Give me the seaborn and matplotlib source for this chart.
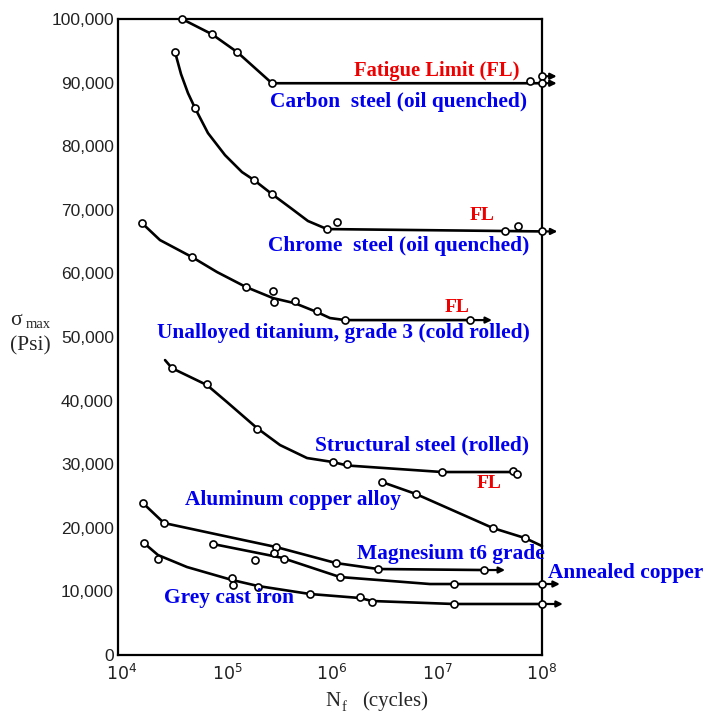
import matplotlib
matplotlib.use("Agg")
import matplotlib.pyplot as plt
import matplotlib.ticker as mticker
import numpy as np
import seaborn as sns

# ---- data (N = cycles, S = psi) ----
carbon_line_n = [3.73e4, 7.2e4, 1.25e5, 2.68e5, 1e8]
carbon_line_s = [100000, 97600, 94800, 89900, 89900]
carbon_pts_n = [3.73e4, 7.2e4, 1.25e5, 2.68e5, 7.7e7, 1e8, 1e8]
carbon_pts_s = [100000, 97600, 94800, 89900, 90200, 91000, 89900]

chrome_line_n = [3.2e4, 3.65e4, 4.25e4, 4.96e4, 6.59e4, 9.57e4, 1.39e5, 1.81e5,
                 2.68e5, 4.16e5, 5.9e5, 8.95e5, 1e8]
chrome_line_s = [94800, 91330, 88350, 85990, 82060, 78600, 75930, 74670,
                 72470, 70130, 68240, 66970, 66600]
chrome_pts_n = [3.2e4, 4.96e4, 1.81e5, 2.68e5, 8.95e5, 1.12e6, 4.45e7, 5.9e7, 1e8]
chrome_pts_s = [94800, 85990, 74670, 72470, 66970, 68100, 66600, 67400, 66600]

titan_line_n = [1.55e4, 2.3e4, 4.64e4, 8.04e4, 1.52e5, 2.74e5, 4.45e5, 7.2e5,
                9.57e5, 1.33e6, 2.06e7]
titan_line_s = [67910, 65240, 62570, 60210, 57850, 56120, 55300, 53920,
                52980, 52660, 52660]
titan_pts_n = [1.55e4, 4.64e4, 1.52e5, 2.74e5, 2.8e5, 4.45e5, 7.2e5, 1.33e6, 2.06e7]
titan_pts_s = [67910, 62570, 57850, 57220, 55490, 55650, 54080, 52660, 52660]

struct_line_n = [2.57e4, 2.99e4, 6.45e4, 1e5, 1.93e5, 3.2e5, 5.78e5, 1.02e6,
                 1.39e6, 1.12e7, 4.95e7]
struct_line_s = [46370, 45100, 42440, 39770, 35680, 33010, 30970, 30340,
                 29800, 28770, 28770]
struct_pts_n = [2.99e4, 6.45e4, 1.93e5, 1.02e6, 1.39e6, 1.12e7, 5.3e7, 5.8e7]
struct_pts_s = [45100, 42600, 35530, 30340, 30025, 28770, 28900, 28400]

alcu_line_n = [2.99e6, 6.31e6, 3.41e7, 6.89e7, 1e8]
alcu_line_s = [27200, 25310, 19960, 18390, 17135]
alcu_pts_n = [2.99e6, 6.31e6, 3.41e7, 6.89e7]
alcu_pts_s = [27200, 25310, 19960, 18390]

magn_line_n = [1.58e4, 2.51e4, 8.57e4, 2.93e5, 1.09e6, 2.74e6, 2.8e7]
magn_line_s = [23900, 20750, 18860, 16980, 14460, 13520, 13360]
magn_pts_n = [1.58e4, 2.51e4, 2.93e5, 1.09e6, 2.74e6, 2.8e7]
magn_pts_s = [23900, 20750, 16980, 14460, 13520, 13360]

copper_line_n = [7.36e4, 3.3e5, 1.19e6, 8.57e6, 1e8]
copper_line_s = [17450, 15300, 12260, 11160, 11160]
copper_pts_n = [7.36e4, 1.85e5, 2.8e5, 3.49e5, 1.19e6, 1.45e7, 1e8]
copper_pts_s = [17450, 14930, 16030, 15090, 12260, 11160, 11160]

grey_line_n = [1.62e4, 2.2e4, 4.16e4, 1.12e5, 1.97e5, 6.17e5, 1.85e6, 2.4e6, 1.45e7, 1e8]
grey_line_s = [17600, 15720, 13830, 11790, 10850, 9590, 8960, 8490, 8020, 8020]
grey_pts_n = [1.62e4, 2.2e4, 1.12e5, 1.14e5, 1.97e5, 6.17e5, 1.85e6, 2.4e6, 1.45e7, 1e8]
grey_pts_s = [17600, 15090, 12100, 11000, 10690, 9590, 9120, 8330, 8020, 8020]

# run-out arrows: start N, tip N, S
arrow_start = [1e8, 1e8, 1e8, 2.06e7, 2.8e7, 1e8, 1e8]
arrow_tip = [1.38e8, 1.38e8, 1.4e8, 3.34e7, 4.45e7, 1.48e8, 1.58e8]
arrow_s = [91000, 89900, 66600, 52660, 13360, 11160, 8020]

y_ticks = [0, 10000, 20000, 30000, 40000, 50000, 60000, 70000, 80000, 90000, 100000]
x_ticks = [1e4, 1e5, 1e6, 1e7, 1e8]

labels = ["Carbon  steel (oil quenched)", "Chrome  steel (oil quenched)",
          "Unalloyed titanium, grade 3 (cold rolled)", "Structural steel (rolled)",
          "Aluminum copper alloy", "Magnesium t6 grade", "Annealed copper",
          "Grey cast iron"]
# label anchor in pixels (left, baseline)
label_px = [(270, 107), (268, 251), (157, 338), (315, 450),
            (185, 505), (357, 559), (548, 578), (164, 603)]
fl_labels = ["Fatigue Limit (FL)", "FL", "FL", "FL"]
fl_px = [(354, 76), (470, 220), (445, 312), (477, 488)]
fl_size = [14.8, 14, 14, 14]

W, H = 707, 715

sns.set_style("white")
plt.rcParams["font.family"] = ["Liberation Serif", "DejaVu Serif"]

fig = plt.figure(figsize=(W / 100, H / 100), dpi=100)
ax = fig.add_axes([118 / W, 60 / H, (542 - 118) / W, (655 - 19) / H])
ax.set_xscale("log")

series = [
    (carbon_line_n, carbon_line_s, carbon_pts_n, carbon_pts_s),
    (chrome_line_n, chrome_line_s, chrome_pts_n, chrome_pts_s),
    (titan_line_n, titan_line_s, titan_pts_n, titan_pts_s),
    (struct_line_n, struct_line_s, struct_pts_n, struct_pts_s),
    (alcu_line_n, alcu_line_s, alcu_pts_n, alcu_pts_s),
    (magn_line_n, magn_line_s, magn_pts_n, magn_pts_s),
    (copper_line_n, copper_line_s, copper_pts_n, copper_pts_s),
    (grey_line_n, grey_line_s, grey_pts_n, grey_pts_s),
]
for ln, ls, pn, ps in series:
    sns.lineplot(x=ln, y=ls, sort=False, estimator=None, color="black",
                 linewidth=1.9, ax=ax, clip_on=False)
    sns.scatterplot(x=pn, y=ps, marker="o", s=26, facecolor="white",
                    edgecolor="black", linewidth=1.2, ax=ax, zorder=4,
                    clip_on=False)

for a0, a1, s in zip(arrow_start, arrow_tip, arrow_s):
    ax.annotate("", xy=(a1, s), xytext=(a0, s), annotation_clip=False,
                arrowprops=dict(arrowstyle="-|>", color="black", lw=1.6,
                                mutation_scale=9, shrinkA=0, shrinkB=0))

ax.set_xlim(10 ** (4 - 4 / 105), 1e8)
ax.set_ylim(0, 100000)
ax.set_xticks(x_ticks)
ax.set_xticklabels([f"$10^{{{int(np.log10(t))}}}$" for t in x_ticks])
ax.xaxis.set_minor_locator(mticker.NullLocator())
ax.set_yticks(y_ticks)
ax.set_yticklabels([f"{t:,}" for t in y_ticks])
ax.tick_params(length=0, colors="#222222", labelsize=12.5)
ax.tick_params(axis="y", pad=3)
ax.tick_params(axis="x", pad=6)
for lab in ax.get_yticklabels() + ax.get_xticklabels():
    lab.set_family("Liberation Sans")
for sp in ax.spines.values():
    sp.set_visible(True)
    sp.set_color("black")
    sp.set_linewidth(1.6)

for txt, (px, py) in zip(labels, label_px):
    fig.text(px / W, 1 - py / H, txt, color="#0000ee", fontsize=15.4,
             fontweight="bold", ha="left", va="baseline")
for txt, (px, py), fs in zip(fl_labels, fl_px, fl_size):
    fig.text(px / W, 1 - py / H, txt, color="#ee0000", fontsize=fs,
             fontweight="bold", ha="left", va="baseline")

fig.text(10 / W, 1 - 325 / H, "σ", fontsize=15.5, ha="left", va="baseline")
fig.text(26 / W, 1 - 328 / H, "max", fontsize=10.5, ha="left", va="baseline")
fig.text(10 / W, 1 - 350 / H, "(Psi)", fontsize=15.5, ha="left", va="baseline")
fig.text(325 / W, 1 - 706 / H, "N", fontsize=15, ha="left", va="baseline")
fig.text(342 / W, 1 - 711 / H, "f", fontsize=10.5, ha="left", va="baseline")
fig.text(362 / W, 1 - 706 / H, "(cycles)", fontsize=15, ha="left", va="baseline")

fig.savefig("out.png", dpi=100)
